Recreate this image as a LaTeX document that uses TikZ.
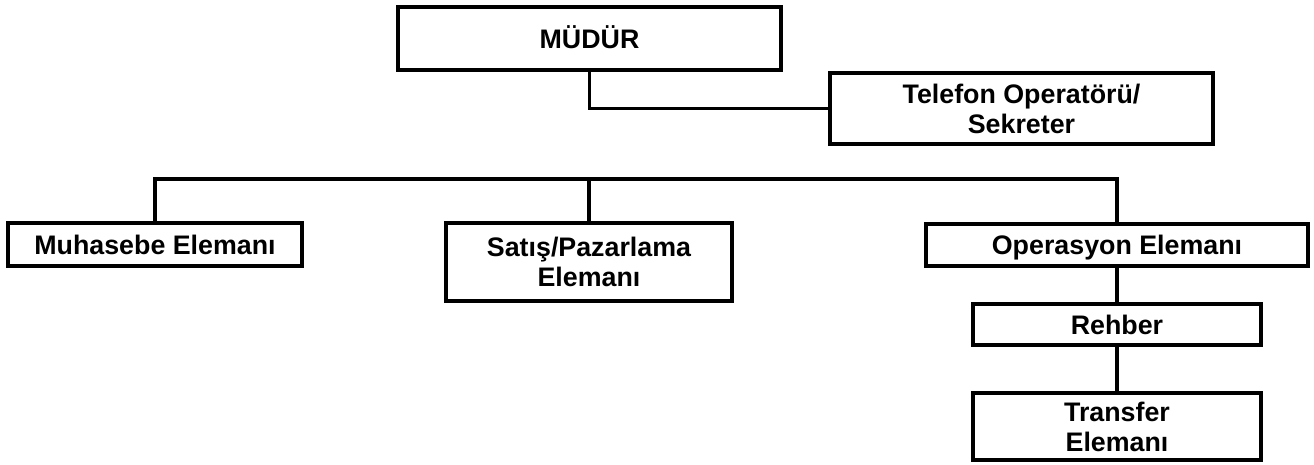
\documentclass[tikz,border=0pt]{standalone}
\usepackage{fontspec}
\setmainfont{Liberation Sans}
\begin{document}
\begin{tikzpicture}[x=1pt,y=-1pt,
  unit/.style={draw=black, line width=3.3pt, rectangle, inner sep=0pt,
    align=center, font=\fontsize{26.8}{30}\selectfont\bfseries},
  oneline/.style={unit, text height=19.2pt, text depth=0pt},
  link/.style={draw=black, line width=3.3pt, line cap=rect}]
  \useasboundingbox (0,0) rectangle (1314,464);

  % boxes
  \node[oneline, minimum width=383pt, minimum height=63pt] (mudur) at (589.5,38.5) {MÜDÜR};
  \node[unit, minimum width=383pt, minimum height=71pt] (telefon) at (1021.5,108.5) {Telefon Operatörü/\\Sekreter};
  \node[oneline, minimum width=294pt, minimum height=43pt] (muhasebe) at (155,244.5) {Muhasebe Elemanı};
  \node[unit, minimum width=286pt, minimum height=78pt] (satis) at (589,262) {Satış/Pazarlama\\Elemanı};
  \node[oneline, minimum width=382pt, minimum height=42pt] (operasyon) at (1117,245) {Operasyon Elemanı};
  \node[oneline, minimum width=288pt, minimum height=41pt] (rehber) at (1117,324.5) {Rehber};
  \node[unit, minimum width=288pt, minimum height=67pt] (transfer) at (1117,426.5) {Transfer\\Elemanı};

  % horizontal bus level
  \coordinate (bus) at (0,179);

  % connectors
  \draw[link] (mudur.south) |- (telefon.west);
  \draw[link] (muhasebe.north) -- (muhasebe.north |- bus) -- (operasyon.north |- bus) -- (operasyon.north);
  \draw[link] (satis.north) -- (satis.north |- bus);
  \draw[link] (operasyon.south) -- (rehber.north);
  \draw[link] (rehber.south) -- (transfer.north);
\end{tikzpicture}
\end{document}
